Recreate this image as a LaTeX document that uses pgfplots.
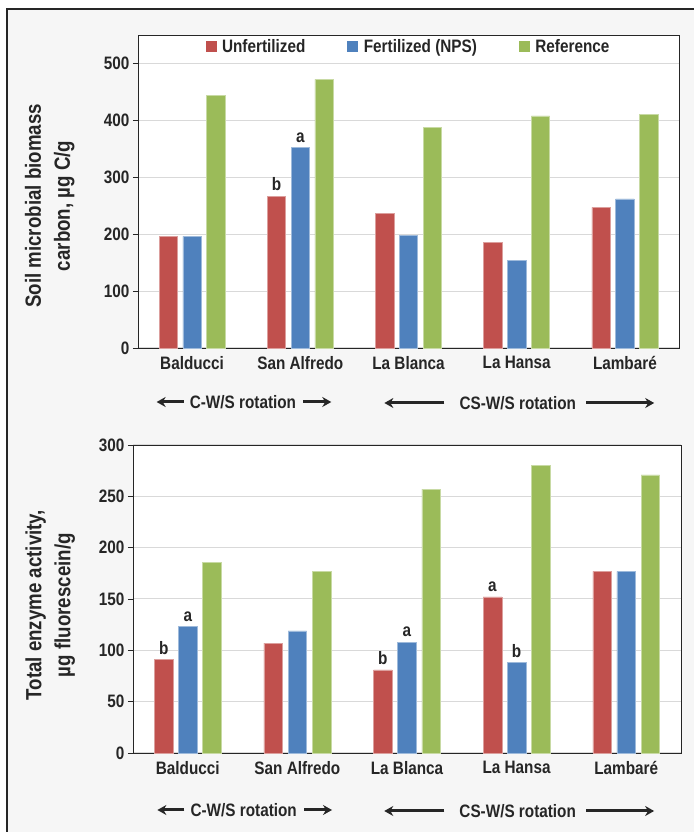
\documentclass[border=0pt]{standalone}
\usepackage{fontspec}
\setmainfont{Liberation Sans}[FakeStretch=0.85]
\usepackage{pgfplots}
\pgfplotsset{compat=1.18}
\usetikzlibrary{arrows.meta}
\definecolor{cU}{HTML}{C0504D}
\definecolor{cF}{HTML}{4F81BD}
\definecolor{cR}{HTML}{9BBB59}
\definecolor{txt}{HTML}{262626}
\definecolor{bgc}{HTML}{F6F6F6}
\definecolor{gridc}{HTML}{D9D9D9}

\pgfplotsset{
 mybase/.style={
  scale only axis, ybar, bar width=0.17,
  xmin=-0.5, xmax=4.5, xtick={0,...,4},
  xticklabels={Balducci,San Alfredo,La Blanca,La Hansa,Lambaré},
  xtick style={draw=none},
  ytick pos=left, tick align=outside, major tick length=5pt,
  ytick style={txt, line width=0.8pt},
  ymajorgrids, grid style={gridc, line width=1pt},
  axis line style={txt, line width=0.9pt},
  axis background/.style={fill=white},
  ymin=0,
  /pgf/number format/assume math mode=true,
  tick label style={font=\fontsize{18}{20}\selectfont\bfseries, text=txt},
  clip=false,
 },
 ylab/.style={every axis y label/.style={at={(axis description cs:#1)}, rotate=90, anchor=center,
   font=\fontsize{22}{29}\selectfont\bfseries, text=txt, align=center}},
 bU/.style={fill=cU, draw=cU!55!white, line width=0.5pt, bar shift=-0.22,
   legend image code/.code={\fill[cU] (0pt,-5pt) rectangle (10pt,5pt);}},
 bF/.style={fill=cF, draw=cF!55!white, line width=0.5pt, bar shift=0,
   legend image code/.code={\fill[cF] (0pt,-5pt) rectangle (10pt,5pt);}},
 bR/.style={fill=cR, draw=cR!55!white, line width=0.5pt, bar shift=0.22,
   legend image code/.code={\fill[cR] (0pt,-5pt) rectangle (10pt,5pt);}},
}
\tikzset{
 lbl/.style={font=\fontsize{18}{20}\selectfont\bfseries, text=txt, anchor=south, inner sep=2pt, yshift=3pt},
 rot/.style={font=\fontsize{18}{20}\selectfont\bfseries, text=txt, inner sep=0pt},
 arr/.style={-{Stealth[length=9pt,width=10pt]}, line width=3pt, draw=txt},
}

\begin{document}
\begin{tikzpicture}
\useasboundingbox (0pt,0pt) rectangle (694pt,832pt);
\fill[white] (0pt,0pt) rectangle (694pt,832pt);
\fill[bgc] (7pt,0pt) rectangle (694pt,823pt);
\draw[line width=1.3pt, txt] (7pt,0pt) -- (7pt,823pt) -- (694pt,823pt);

% ---------- top chart ----------
\begin{axis}[mybase,
  at={(138pt,484pt)}, anchor=south west,
  width=541pt, height=313pt,
  ymax=550, ytick={0,100,...,500},
  ylabel={Soil microbial biomass\\carbon, µg C/g},
  ylab={-0.163,0.454},
  legend columns=3,
  legend style={at={(0.5,1)}, anchor=north, draw=none, fill=none,
    font=\fontsize{18}{20}\selectfont\bfseries, text=txt, inner sep=2pt,
    /tikz/every odd column/.append style={column sep=4pt},
    /tikz/every even column/.append style={column sep=40pt}},
]
\addplot[bU] coordinates {(0,196) (1,267) (2,236) (3,185) (4,247)};
\addplot[bF] coordinates {(0,196) (1,352) (2,198) (3,154) (4,262)};
\addplot[bR] coordinates {(0,444) (1,472) (2,388) (3,408) (4,410)};
\legend{Unfertilized,Fertilized (NPS),Reference}
\node[lbl] at (axis cs:0.78,267) {b};
\node[lbl] at (axis cs:1,352) {a};
\node[rot, yshift=-54pt] (t1) at (axis cs:0.47,0) {C-W/S rotation};
\node[rot, yshift=-55pt] (t2) at (axis cs:3.01,0) {CS-W/S rotation};
\end{axis}

% ---------- bottom chart ----------
\begin{axis}[mybase,
  at={(133pt,79pt)}, anchor=south west,
  width=548pt, height=308pt,
  ymax=300, ytick={0,50,...,300},
  ylabel={Total enzyme activity,\\µg fluorescein/g},
  ylab={-0.151,0.48},
]
\addplot[bU] coordinates {(0,91) (1,107) (2,81) (3,152) (4,177)};
\addplot[bF] coordinates {(0,123) (1,119) (2,108) (3,88) (4,177)};
\addplot[bR] coordinates {(0,186) (1,177) (2,257) (3,280) (4,271)};
\node[lbl] at (axis cs:-0.22,91) {b};
\node[lbl] at (axis cs:0,123) {a};
\node[lbl] at (axis cs:1.78,81) {b};
\node[lbl] at (axis cs:2,108) {a};
\node[lbl] at (axis cs:2.78,152) {a};
\node[lbl] at (axis cs:3,88) {b};
\node[rot, yshift=-57pt] (t3) at (axis cs:0.51,0) {C-W/S rotation};
\node[rot, yshift=-58pt] (t4) at (axis cs:3.01,0) {CS-W/S rotation};
\end{axis}

% rotation arrows
\foreach \n in {t1,t3}{
  \draw[arr] ([xshift=-6pt]\n.west) -- ++(-27pt,0pt);
  \draw[arr] ([xshift=7pt]\n.east) -- ++(28pt,0pt);
}
\foreach \n in {t2,t4}{
  \draw[arr] ([xshift=-15pt]\n.west) -- ++(-60pt,0pt);
  \draw[arr] ([xshift=10pt]\n.east) -- ++(68pt,0pt);
}
\end{tikzpicture}
\end{document}
